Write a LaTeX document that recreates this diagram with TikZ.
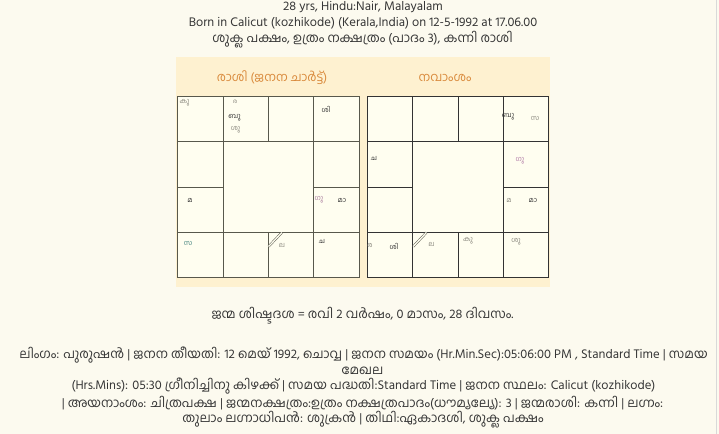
\documentclass[tikz,border=0pt]{standalone}
\usepackage{fontspec}
\setmainfont[Script=Malayalam]{Hind Kochi}
\usepackage{tikz}
\usetikzlibrary{calc}
\tikzset{>=latex}

\definecolor{page}{HTML}{FCFAEF}
\definecolor{panel}{HTML}{FEF1D0}
\definecolor{cell}{HTML}{FFFEF0}
\definecolor{headtext}{HTML}{D98A3C}
\definecolor{ink}{HTML}{363636}
\definecolor{gridline}{HTML}{58584C}
\definecolor{soft}{HTML}{8C8A80}
\definecolor{pinkish}{HTML}{B07AA6}

\tikzset{
  info/.style={text=ink, font=\fontsize{12.8}{14}\selectfont, inner sep=0pt},
  chartname/.style={text=headtext, font=\fontsize{12.3}{13}\selectfont, inner sep=0pt},
  graha/.style={text=ink, font=\fontsize{7}{8}\selectfont, inner sep=0pt},
  faint/.style={graha, text=soft},
  lagnamark/.style={draw=gridline, double=cell, double distance=1.3bp, line width=0.5bp},
}

\begin{document}
\begin{tikzpicture}[x=1bp, y=-1bp]
            % page
            \useasboundingbox (0,0) rectangle (719,434);
            \fill[page] (0,0) rectangle (719,434);
            \draw[black!15, line width=1bp] (716,0) -- (716,434);

            % heading lines
            \node[info] (age) at (363,7) {28 yrs, Hindu:Nair, Malayalam};
            \node[info] (born) at (363,23) {Born in Calicut (kozhikode) (Kerala,India) on 12-5-1992 at 17.06.00};
            \node[info] (paksham) at (362.5,40) {ശുക്ല പക്ഷം, ഉത്രം നക്ഷത്രം (പാദം 3), കന്നി രാശി};

            % panel
            \fill[panel] (176,57) rectangle (550,287);
            \node[chartname] (rasi) at (272,78) {രാശി (ജനന ചാർട്ട്)};
            \node[chartname] (navamsa) at (445,78) {നവാംശം};

            % grids
            \foreach \ox/\gc in {177.7/gridline, 367.3/black!80} {
                \fill[cell] (\ox,96.7) rectangle ++(181.3,180.7);
                \draw[draw=\gc, line width=0.9bp] (\ox,96.7) rectangle ++(181.3,180.7);
                \draw[draw=\gc, line width=0.9bp] (\ox,141.9) -- ++(181.3,0);
                \draw[draw=\gc, line width=0.9bp] (\ox,232.1) -- ++(181.3,0);
                \draw[draw=\gc, line width=0.9bp] (\ox,187) -- ++(45.3,0);
                \draw[draw=\gc, line width=0.9bp] (\ox+136,187) -- ++(45.3,0);
                \draw[draw=\gc, line width=0.9bp] (\ox+45.3,96.7) -- ++(0,180.7);
                \draw[draw=\gc, line width=0.9bp] (\ox+136,96.7) -- ++(0,180.7);
                \draw[draw=\gc, line width=0.9bp] (\ox+90.7,96.7) -- ++(0,45.2);
                \draw[draw=\gc, line width=0.9bp] (\ox+90.7,232.1) -- ++(0,45.3);
            }

            % rasi chart
            \node[faint] (rkuja) at (184.5,103) {കു};
            \node[faint, font=\fontsize{6}{7}\selectfont] (rravi) at (235,101.5) {ര};
            \node[graha] (rbudha) at (234.5,118) {ബു};
            \node[faint] (rsukra) at (235.5,130) {ശു};
            \node[graha] (rsikhi) at (326,109) {ശി};
            \node[graha] (rmanda) at (190,200) {മ};
            \node[faint, text=pinkish!80!soft] (rguru) at (319,200) {ഗു};
            \node[graha] (rmandi) at (342,200) {മാ};
            \node[faint, text=teal!50!soft] (rsarpa) at (188,243) {സ};
            \node[faint] (rlagna) at (282,245.5) {ല};
            \node[graha] (rchandra) at (322,241) {ച};
            \draw[lagnamark] (268.6,246.5) -- (281.8,232.6);

            % navamsa chart
            \node[graha] (nbudha) at (508,116.5) {ബു};
            \node[faint] (nsarpa) at (535,118) {സ};
            \node[graha] (nchandra) at (374,158) {ച};
            \node[faint, text=pinkish] (nguru) at (520,161) {ഗു};
            \node[faint] (nmanda) at (509,200) {മ};
            \node[graha] (nmandi) at (533,200) {മാ};
            \node[faint] (nravi) at (370,245.5) {ര};
            \node[graha] (nsikhi) at (394,246) {ശി};
            \node[faint] (nlagna) at (431.5,244) {ല};
            \node[faint] (nkuja) at (468,241) {കു};
            \node[faint] (nsukra) at (516,242) {ശു};
            \draw[lagnamark] (413.2,246.5) -- (426.4,232.6);

            % dasa balance
            \node[info] (dasa) at (362.5,316) {ജന്മ ശിഷ്ടദശ = രവി 2 വർഷം, 0 മാസം, 28 ദിവസം.};

            % details
            \node[info] (line1) at (363.5,355) {ലിംഗം: പുരുഷൻ | ജനന തീയതി: 12 മെയ് 1992, ചൊവ്വ | ജനന സമയം (Hr.Min.Sec):05:06:00 PM , Standard Time | സമയ};
            \node[info] (line2) at (362.5,370.5) {മേഖല};
            \node[info] (line3) at (363.5,386.5) {(Hrs.Mins): 05:30 ഗ്രീനിച്ചിനു കിഴക്ക് | സമയ പദ്ധതി:Standard Time | ജനന സ്ഥലം: Calicut (kozhikode)};
            \node[info] (line4) at (362.5,403) {| അയനാംശം: ചിത്രപക്ഷ | ജന്മനക്ഷത്രം:ഉത്രം നക്ഷത്രപാദം(ധൗമ്യല്യേ): 3 | ജന്മരാശി: കന്നി | ലഗ്നം:};
            \node[info] (line5) at (363,419.5) {തുലാം ലഗ്നാധിപൻ: ശുക്രൻ | തിഥി:ഏകാദശി, ശുക്ല പക്ഷം};
\end{tikzpicture}
\end{document}
